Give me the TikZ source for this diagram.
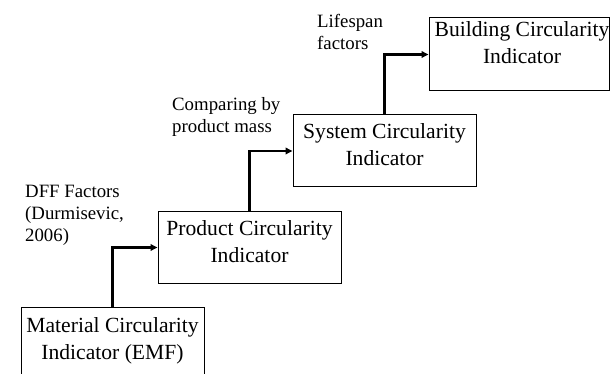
\documentclass[tikz,border=0pt]{standalone}
\usepackage{fontspec}
\setmainfont{Liberation Serif}
\usetikzlibrary{arrows.meta}
\begin{document}
\begin{tikzpicture}[x=1pt,y=-1pt,
  box/.style={draw, line width=1pt, minimum width=183pt, minimum height=72pt, inner sep=0pt},
  boxtext/.style={align=center, inner sep=0pt, font=\fontsize{21.6}{27}\selectfont, anchor=north},
  lbl/.style={align=left, inner sep=0pt, font=\fontsize{18.8}{22}\selectfont, anchor=north west},
  conn/.style={line width=2.2pt, -{Triangle[length=7pt,width=6.5pt]}}]
\useasboundingbox (0,0) rectangle (614,374);
\clip (0,0) rectangle (614,374);
% boxes
\node[box] (M) at (112.5,344) {};
\node[box] (P) at (249.5,247.5) {};
\node[box] (S) at (384.5,151) {};
\node[box, minimum width=180pt, minimum height=73pt] (B) at (519,54.5) {};
% box texts
\node[boxtext] (Mt) at (112.5,317.5) {Material Circularity\\Indicator (EMF)};
\node[boxtext] (Pt) at (249.5,220.25) {Product Circularity\\Indicator};
\node[boxtext] (St) at (384.5,123.25) {System Circularity\\Indicator};
\node[boxtext] (Bt) at (522,21) {Building Circularity\\Indicator};
% labels
\node[lbl] (L1) at (25,184.6) {DFF Factors\\(Durmisevic,\\2006)};
\node[lbl] (L2) at (172,97.2) {Comparing by\\product mass};
\node[lbl] (L3) at (317,14.2) {Lifespan\\factors};
% connectors
\draw[conn] (M.north) |- (P.west);
\draw[conn] (P.north) |- (S.west);
\draw[conn] (S.north) |- (B.west);
\end{tikzpicture}
\end{document}
